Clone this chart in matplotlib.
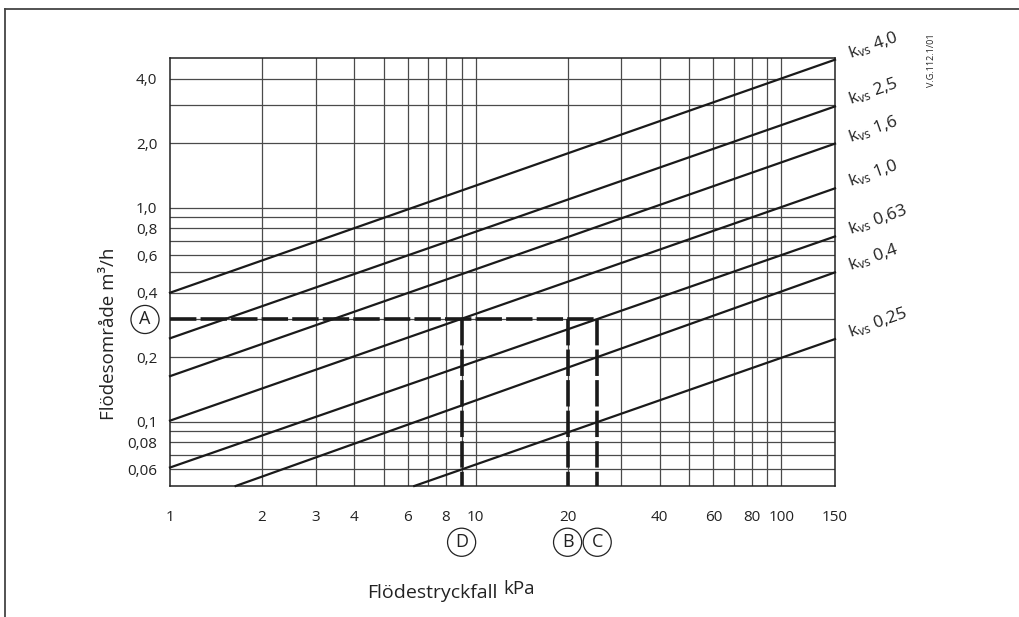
import matplotlib
matplotlib.use("Agg")
import matplotlib.pyplot as plt
from matplotlib.lines import Line2D

plt.rcParams['font.family'] = ['Open Sans', 'DejaVu Sans']
plt.rcParams['mathtext.fontset'] = 'custom'
plt.rcParams['mathtext.rm'] = 'Open Sans'
plt.rcParams['mathtext.it'] = 'Open Sans:italic'
plt.rcParams['mathtext.bf'] = 'Open Sans:bold'
plt.rcParams['lines.scale_dashes'] = False

# ---- data ----
kvs_labels = ['4,0', '2,5', '1,6', '1,0', '0,63', '0,4', '0,25']
line_dp_start = [1.0, 1.0, 1.0, 1.0, 1.0, 1.64, 6.3]
line_q_start = [0.40, 0.245, 0.163, 0.101, 0.061, 0.05, 0.05]
line_dp_end = [150, 150, 150, 150, 150, 150, 150]
line_q_end = [4.91, 2.97, 1.99, 1.23, 0.733, 0.498, 0.243]

x_ticks = [1, 2, 3, 4, 6, 8, 10, 20, 40, 60, 80, 100, 150]
x_ticklabels = ['1', '2', '3', '4', '6', '8', '10', '20', '40', '60', '80', '100', '150']
y_ticks = [4.0, 2.0, 1.0, 0.8, 0.6, 0.4, 0.2, 0.1, 0.08, 0.06]
y_ticklabels = ['4,0', '2,0', '1,0', '0,8', '0,6', '0,4', '0,2', '0,1', '0,08', '0,06']

x_grid = [2, 3, 4, 5, 6, 7, 8, 9, 10, 20, 30, 40, 50, 60, 70, 80, 90, 100]
y_grid = [0.06, 0.07, 0.08, 0.09, 0.1, 0.2, 0.3, 0.4, 0.5, 0.6, 0.7, 0.8, 0.9, 1, 2, 3, 4]

flow_A = 0.3
dp_D = 9.0
dp_B = 20
dp_C = 25

W, H = 1020, 617
fig = plt.figure(figsize=(W / 100, H / 100), dpi=100)
ax = fig.add_axes([170 / W, 1 - 486 / H, (835 - 170) / W, (486 - 58) / H])
ax.set_xscale('log')
ax.set_yscale('log')
ax.set_xlim(1, 150)
ax.set_ylim(0.05, 5.0)

for xv in x_grid:
    ax.axvline(xv, color='#4a4a4a', lw=0.9, zorder=1)
for yv in y_grid:
    ax.axhline(yv, color='#4a4a4a', lw=0.9, zorder=1)

for s in ax.spines.values():
    s.set_color('#222222')
    s.set_linewidth(1.1)

ax.set_xticks(x_ticks)
ax.set_xticklabels(x_ticklabels)
ax.set_yticks(y_ticks)
ax.set_yticklabels(y_ticklabels)
ax.minorticks_off()
ax.tick_params(axis='both', length=0, labelsize=11, colors='#222222')
ax.tick_params(axis='x', pad=17)
ax.tick_params(axis='y', pad=9)

# kvs lines
for lab, x0, y0, x1, y1 in zip(kvs_labels, line_dp_start, line_q_start, line_dp_end, line_q_end):
    ax.plot([x0, x1], [y0, y1], color='#1a1a1a', lw=1.6, zorder=3, clip_on=False)
    ax.annotate('k$_{\\rm vs}$ ' + lab, xy=(x1, y1), xytext=(11, 1),
                textcoords='offset points', rotation=19.5, rotation_mode='anchor',
                ha='left', va='baseline', fontsize=12.5, color='#222222',
                annotation_clip=False)

# dashed construction lines
dash = dict(color='#1a1a1a', lw=2.6, dashes=(19, 3), zorder=4, solid_capstyle='butt',
            dash_capstyle='butt')
ax.plot([1, dp_C], [flow_A, flow_A], **dash)
for xv in (dp_D, dp_B, dp_C):
    ax.plot([xv, xv], [flow_A, 0.05], **dash)

# circled letters
circ = dict(boxstyle='circle,pad=0.28', fc='white', ec='#222222', lw=0.9)
ax.annotate('A', xy=(0, flow_A), xycoords=('axes fraction', 'data'),
            xytext=(-18, 0), textcoords='offset points', ha='center', va='center',
            fontsize=13, color='#222222', bbox=circ, annotation_clip=False)
for lab, xv in (('D', dp_D), ('B', dp_B), ('C', dp_C)):
    ax.annotate(lab, xy=(xv, 0), xycoords=('data', 'axes fraction'),
                xytext=(0, -40.5), textcoords='offset points', ha='center', va='center',
                fontsize=13, color='#222222', bbox=circ, annotation_clip=False)

# axis titles
fig.text(109 / W, 1 - 334 / H, 'Flödesområde m³/h', rotation=90, ha='center', va='center',
         fontsize=13.5, color='#222222')
fig.text(367 / W, 1 - 598 / H, 'Flödestryckfall', ha='left', va='baseline',
         fontsize=14, color='#222222')
fig.text(503 / W, 1 - 594 / H, 'kPa', ha='left', va='baseline', fontsize=13.5, color='#222222')

fig.text(932 / W, 1 - 60 / H, 'V.G.112.1/01', rotation=90, ha='center', va='center',
         fontsize=6.5, color='#222222')

# frame lines
fig.add_artist(Line2D([5 / W, 1.0], [1 - 9 / H, 1 - 9 / H], color='#444444', lw=1.3))
fig.add_artist(Line2D([5 / W, 5 / W], [1 - 9 / H, 0.0], color='#444444', lw=1.3))

fig.savefig('out.png', dpi=100, facecolor='white')
